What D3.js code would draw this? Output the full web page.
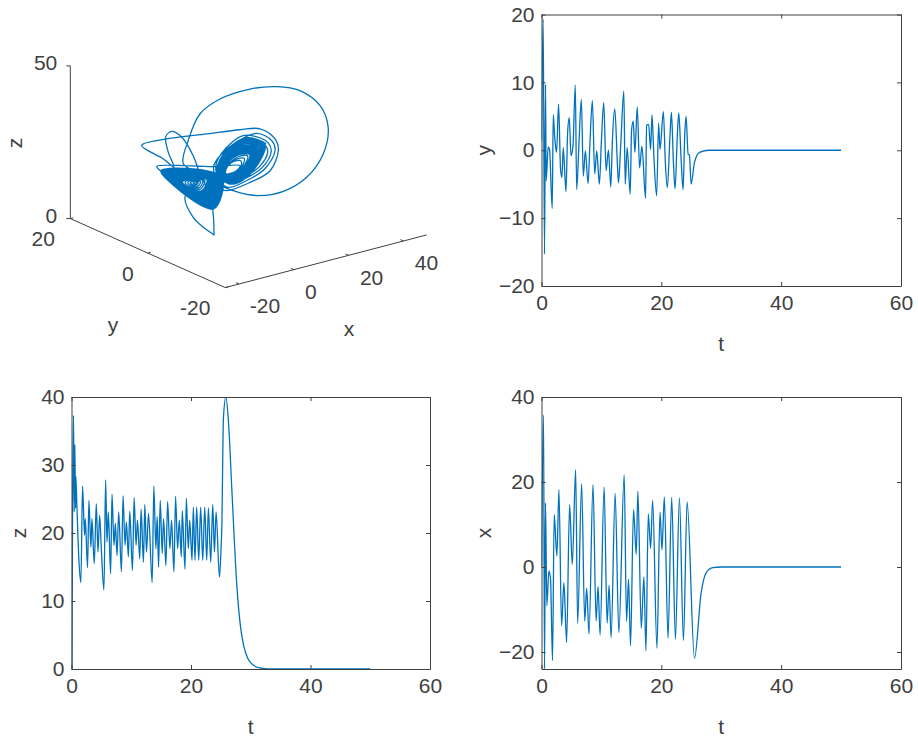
<!DOCTYPE html>
<html>
<head>
<meta charset="utf-8">
<script src="https://cdn.jsdelivr.net/npm/d3@7"></script>
<style>
  html, body { margin: 0; padding: 0; background: #fff; }
  svg { display: block; }
  text { font-family: "Liberation Sans", Arial, sans-serif; fill: #404040; }
</style>
</head>
<body>
<svg id="chart" width="918" height="738"></svg>
<script>
const tY = [0,.28,.5,.67,.78,1.12,1.34,1.79,1.96,2.23,2.51,2.85,3.18,3.41,3.63,4.08,4.36,4.64,4.92,5.25,5.64,5.87,6.26,6.65,6.98,7.32,7.77,8.1,8.49,8.88,9.22,9.66,10,10.39,10.78,11.17,11.56,11.84,12.23,12.68,12.85,13.24,13.74,13.97,14.3,14.8,15.03,15.31,15.59,15.98,16.37,16.76,17.37,17.54,17.88,18.21,18.44,18.77,19.22,19.55,19.78,20.34,20.67,21,21.45,21.68,22.01,22.29,22.68,22.91,23.3,23.63,23.91,24.13,24.47,24.69,24.97,25.53,26.37,28,50];
const valuesY = [1.4,19.3,-15.3,9.7,-4.5,.5,.1,-8.6,5.2,1.6,-.3,6.8,-2.8,-4,.4,-6.1,2.6,4.8,-.8,.6,9.6,-5.8,1.1,7.5,-3.8,-.1,-4.9,1.4,7.3,-3.5,-.1,-5,1.4,7,-3,0,-5.4,1.6,6.1,-2.3,-4.8,1.1,8.7,-5,.4,-6.5,2.9,4.3,-.3,6.4,-2.6,.6,-7.1,3.7,3.8,.1,5.2,-1.2,-6.7,4,.1,5.7,-1.8,-5.5,2.2,5.6,-1.6,-5.7,2.4,5.5,-1.3,-5.8,2.4,5,-.6,-.7,-5,-1.8,-.3,0,0];

const tZ = [0,.06,.17,.34,.45,.56,.67,.73,.9,1.23,1.57,1.85,2.18,2.3,2.69,2.91,3.25,3.42,3.81,4.15,4.43,4.71,4.99,5.43,5.71,5.94,6.16,6.55,6.78,7.11,7.34,7.62,7.9,8.35,8.63,8.96,9.19,9.52,9.75,10.2,10.48,10.81,11.04,11.43,11.65,12.04,12.27,12.55,12.89,13.5,13.78,14.12,14.34,14.57,14.85,15.18,15.41,15.8,16.08,16.47,16.75,17.14,17.42,17.76,18.04,18.38,18.54,18.99,19.22,19.55,19.78,20.17,20.39,20.67,20.95,21.29,21.62,21.96,22.3,22.63,22.91,23.3,23.64,23.92,24.2,24.76,25.04,25.15,25.43,25.83,26.27,26.83,27.67,28.5,29.9,31.5,33,50];
const valuesZ = [0,0,22.1,37.3,23.1,33,23.6,28.3,24.1,16.2,12.7,26.9,19.7,22.1,14.9,24.8,17.9,22.1,15.5,24.3,17.2,22.6,17.7,11.6,27.8,18.7,23.1,14,25.7,18.2,21.4,16.7,23.1,14.3,25.5,18.2,21.6,16.5,23.2,14.5,25.2,18.2,21.9,16.2,23.5,15.7,24.2,17.2,22.9,12.7,26.9,17.7,22.4,15,24.8,17,22.1,15.2,24.6,17.7,21.9,14.3,25.4,17.7,21.9,16.5,23.3,14.7,25.1,17.7,21.9,16,23.8,16,23.8,16,23.8,16,23.8,16,23.7,15.7,24.2,17.2,23.1,13.5,17.9,20.6,36.9,40,36.4,26.5,12.3,4.9,1,.15,.02,0];

const tX = [0,.34,.5,.67,.89,1.23,1.51,1.84,2.12,2.57,2.91,3.35,3.74,4.19,4.69,5.14,5.7,6.03,6.7,7.21,7.54,7.93,8.6,9.11,9.44,9.78,10.45,10.95,11.28,11.62,12.29,12.91,13.8,14.19,14.53,14.86,15.36,15.81,16.09,16.65,17.09,17.43,17.82,18.21,18.55,19.27,19.78,20.11,20.5,21.12,21.73,22.35,23.02,23.69,24.3,25.53,26.65,27.5,28.6,30,50];
const valuesX = [0,35.8,-24,15.1,-9.1,-.9,-2.9,-22,12.3,2.6,18.2,-13.8,-3.7,-17.7,14.7,.6,22.9,-13.3,19.6,-12.7,-5,-15.8,19.4,-12.7,-4.6,-16,18.8,-13.2,-4.3,-16.6,17.3,-15.4,21.7,-12.7,-2.9,-18.5,13.5,3,17.8,-14.4,-2.3,-19.7,12.5,4.4,15.7,-19.1,12.9,4.1,16.5,-16.7,16.4,-17,16.3,-17.3,15.3,-21.5,-6,-1.3,-.15,0,0];

// 3D trajectory, estimated from the projected curve: first the transient and big loop
const orbitX = [0,-.2,-1.2,-5.1,-7.6, -11.8,-15.4,-17.6,-16.7,-14.6, -12.8,-15.1,-8.8,1.6,10.9, 18.2,23.7,24.9,21.9,14.6, 6.1,2.4,-6.5,-12.6,-9.4, -.9,13.5,27.3,34.2,37, 35.9,34.6,30,22.5,14, 7.1,2.8,.8,-.2,3.6, 8.5];
const orbitY = [0,0,0,0,0, 0,0,0,0,0, 4,8,6,3,1, 1,1,1,1,1, 1,1,-1,-1,0, 3,8,10,8,4, -2,-5,-7,-8,-8, -6,-3,-1,0,1, 1];
const orbitZ = [0,5.9,12.7,21.3,27.8, 34.9,37.6,36.4,31.1,25.7, 25.7,28.4,30.2,31.1,31.4, 30,25.4,21.3,15.4,13.3, 12.6,14.5,22.2,26.9,33.2, 38.2,36.9,35.8,36.1,36.4, 35.1,30,23.6,18.2,15.6, 14.7,15.6,17.1,22.3,24.6, 27.3];

// right wing, outer strands then the dense spiral round the hole
const wingX = [
  17,22.5,23.7,20,13.4,6.1,2.4,2.4,7.3,12.1,
  16.4,21.2,22.3,19,13.2,6.8,3.6,3.6,7.9,12.1,
  15.8,20.1,21,18.1,13.1,7.4,4.7,4.7,8.3,12.1,
  20.3,13.4,4.9,2.4,8.5,15.8,
  20,13.3,5,2.5,8.5,15.6,
  19.6,13.1,5.1,2.7,8.5,15.3,
  19.2,12.9,5.1,2.8,8.4,15.1,
  18.8,12.7,5.2,2.9,8.4,14.9,
  18.5,12.6,5.3,3,8.4,14.7,
  18.1,12.4,5.4,3.2,8.4,14.4,
  17.8,12.2,5.4,3.3,8.3,14.1,
  17.4,12,5.5,3.5,8.3,13.9,
  17,11.8,5.6,3.6,8.3,13.7,
  16.7,11.7,5.7,3.8,8.3,13.5,
  16.3,11.5,5.8,3.9,8.2,13.2,
  15.9,11.3,5.9,4,8.2,13,
  15.6,11.1,6,4.2,8.2,12.8,
  15.2,11,6,4.3,8.2,12.6,
  14.9,10.8,6.1,4.5,8.1,12.3,
  14.5,10.6,6.2,4.6,8.1,12.1,
  13.7,10.3,6.3,4.8,8.1,11.6,
  12.4,9.1,6.1,5.3,8.7,11.3,
  11.2,7.9,6,5.8,9.3,11];
const wingZ = [
  28.8,25.1,21.6,16.5,14.2,13.7,18.9,22.8,27.6,29.2,
  27.9,24.7,21.6,17.1,15.1,14.6,19.2,22.6,26.9,28.3,
  27,24.2,21.6,17.7,15.8,15.4,19.5,22.5,26.1,27.4,
  24.6,28.2,24.9,18.4,14.2,16.9,
  24.5,27.9,24.7,18.4,14.4,17,
  24.3,27.6,24.5,18.4,14.6,17.1,
  24.2,27.3,24.3,18.4,14.8,17.2,
  24.1,27,24,18.4,15,17.4,
  24,26.7,23.8,18.4,15.2,17.5,
  23.8,26.4,23.6,18.4,15.3,17.6,
  23.7,26,23.3,18.3,15.5,17.7,
  23.5,25.7,23.1,18.3,15.7,17.9,
  23.4,25.4,22.9,18.3,15.9,18,
  23.2,25.1,22.7,18.3,16.1,18.1,
  23.1,24.8,22.5,18.3,16.3,18.2,
  23,24.5,22.3,18.3,16.5,18.4,
  22.8,24.2,22,18.3,16.6,18.5,
  22.7,23.9,21.8,18.3,16.8,18.6,
  22.5,23.6,21.6,18.3,17,18.7,
  22.4,23.3,21.4,18.3,17.2,18.9,
  22.2,22.7,20.9,18.3,17.6,19.1,
  21.7,22,20.4,18.2,17.9,19.3,
  21.2,21.4,20,18.2,18.2,19.6];
const wingY = [
  1,1,1,1,1,1,1,1,1,1,
  1,1,1,1,1,1,1,1,1,1,
  1,1,1,1,1,1,1,1,1,1,
  1,1,1,1,1,1,
  1,1,1,1,1,1,
  1,1,1,1,1,1,
  1,1,1,1,1,1,
  1,1,1,1,1,1,
  1,1,1,1,1,1,
  1,1,1,1,1,1,
  1,1,1,1,1,1,
  1,1,1,1,1,1,
  1,1,1,1,1,1,
  1,1,1,1,1,1,
  1,1,1,1,1,1,
  1,1,1,1,1,1,
  1,1,1,1,1,1,
  1,1,1,1,1,1,
  1,1,1,1,1,1,
  1,1,1,1,1,1,
  1,1,1,1,1,1,
  1,1,1,1,1,1,
  1,1,1,1,1,1];

// left wing seen edge on: a wedge swept corner to corner, then the last fall to the origin
const fanX = [
  -1.7,-22.3,
  -21.1,-1.7,1.4, -20.8,-1.8,1.2, -20.5,-2,1, -20.2,-2.1,.8, -20,-2.3,.6,
  -19.7,-2.4,.4, -19.4,-2.6,.3, -19,-2.7,0, -18.7,-2.9,-.2, -18.4,-3,-.3,
  -18.2,-3.2,-.5, -17.9,-3.3,-.7, -17.6,-3.5,-.9, -17.3,-3.7,-1.1, -17,-3.9,-1.3,
  -16.7,-4,-1.5, -16.5,-4.2,-1.7, -16.2,-4.3,-1.8, -15.9,-4.5,-2, -15.6,-4.6,-2.2,
  -15.3,-4.8,-2.4, -15,-4.9,-2.6, -14.7,-5.1,-2.9, -14.4,-5.2,-3, -14.1,-5.4,-3.2,
  -13.8,-5.5,-3.4, -13.6,-5.7,-3.6, -13.3,-5.8,-3.8, -13,-6,-4,
  -12,-6.4,-4.8, -11,-6.8,-5.6, -10,-7.2,-6.4, -9,-7.6,-7.2,
  -12,-9,-3.9,-.8,0];
const fanZ = [
  23.4,28.3,
  26.7,9.5,19.2, 26.5,9.7,19.2, 26.3,10,19.3, 26.1,10.2,19.3, 25.9,10.5,19.3,
  25.7,10.7,19.3, 25.5,11,19.4, 25.2,11.2,19.4, 25,11.5,19.4, 24.8,11.7,19.4,
  24.6,12,19.5, 24.4,12.2,19.5, 24.2,12.5,19.5, 24,12.7,19.5, 23.9,13,19.6,
  23.7,13.2,19.6, 23.5,13.5,19.6, 23.2,13.7,19.6, 23,14,19.7, 22.8,14.2,19.7,
  22.6,14.5,19.7, 22.4,14.7,19.7, 22.2,15,19.8, 22,15.2,19.8, 21.8,15.5,19.8,
  21.6,15.7,19.8, 21.4,16,19.9, 21.2,16.2,19.9, 21,16.5,20,
  20.7,17.1,19.9, 20.4,17.7,19.8, 20.1,18.3,19.7, 19.8,18.9,19.6,
  15.8,8.5,3.5,.8,0];
const fanY = [
  -1,-1,
  -1,-1,-1, -1,-1,-1, -1,-1,-1, -1,-1,-1, -1,-1,-1,
  -1,-1,-1, -1,-1,-1, -1,-1,-1, -1,-1,-1, -1,-1,-1,
  -1,-1,-1, -1,-1,-1, -1,-1,-1, -1,-1,-1, -1,-1,-1,
  -1,-1,-1, -1,-1,-1, -1,-1,-1, -1,-1,-1, -1,-1,-1,
  -1,-1,-1, -1,-1,-1, -1,-1,-1, -1,-1,-1, -1,-1,-1,
  -1,-1,-1, -1,-1,-1, -1,-1,-1, -1,-1,-1,
  -1,-1,-1, -1,-1,-1, -1,-1,-1, -1,-1,-1,
  -1,-1,0,0,0];

const tTicks = [0, 20, 40, 60];
const yTicks = [-20, -10, 0, 10, 20];
const zTicks = [0, 10, 20, 30, 40];
const xTicks = [-20, 0, 20, 40];
const tick3dX = [-20, 0, 20, 40];
const tick3dY = [-20, 0, 20];
const tick3dZ = [0, 50];

const lineColor = '#0072BD';
const axisColor = '#404040';
const fontSize = 21;

const svg = d3.select('#chart');

function drawPanel(id, box, tVals, vVals, yDomain, vTicks, label, labelX) {
  const xScale = d3.scaleLinear().domain([0, 60]).range([box.left, box.right]);
  const yScale = d3.scaleLinear().domain(yDomain).range([box.bottom, box.top]);

  svg.append('clipPath').attr('id', id)
    .append('rect')
    .attr('x', box.left).attr('y', box.top)
    .attr('width', box.right - box.left).attr('height', box.bottom - box.top);

  const line = d3.line()
    .x((d, i) => xScale(tVals[i]))
    .y(d => yScale(d))
    .curve(d3.curveMonotoneX);

  svg.append('path')
    .datum(vVals)
    .attr('clip-path', `url(#${id})`)
    .attr('fill', 'none')
    .attr('stroke', lineColor)
    .attr('stroke-width', 1.3)
    .attr('d', line);

  const bottom = d3.axisBottom(xScale).tickValues(tTicks).tickSize(-4).tickPadding(9);
  const left = d3.axisLeft(yScale).tickValues(vTicks).tickSize(-4).tickPadding(7);
  const top = d3.axisTop(xScale).tickValues(tTicks).tickSize(-4).tickFormat('');
  const right = d3.axisRight(yScale).tickValues(vTicks).tickSize(-4).tickFormat('');

  [[bottom, 0, box.bottom], [left, box.left, 0], [top, 0, box.top], [right, box.right, 0]].forEach(a => {
    const g = svg.append('g')
      .attr('transform', `translate(${a[1]}, ${a[2]})`)
      .call(a[0].tickSizeOuter(0));
    g.selectAll('path,line').attr('stroke', axisColor);
    g.selectAll('text').style('font-size', fontSize + 'px').attr('fill', axisColor);
  });

  svg.append('text')
    .attr('x', (box.left + box.right) / 2)
    .attr('y', box.bottom + 65)
    .attr('text-anchor', 'middle')
    .style('font-size', fontSize + 'px')
    .text('t');

  svg.append('text')
    .attr('transform', `translate(${labelX}, ${(box.top + box.bottom) / 2}) rotate(-90)`)
    .attr('text-anchor', 'middle')
    .style('font-size', fontSize + 'px')
    .text(label);
}

drawPanel('clipY', { left: 541.5, right: 901, top: 14.5, bottom: 286 }, tY, valuesY, [-20, 20], yTicks, 'y', 491);
drawPanel('clipZ', { left: 71.5, right: 430, top: 397, bottom: 669 }, tZ, valuesZ, [0, 40], zTicks, 'z', 26);
drawPanel('clipX', { left: 541.5, right: 901, top: 397, bottom: 669 }, tX, valuesX, [-24, 40], xTicks, 'x', 491);

// 3D view: each data axis adds its own screen offset
const xToPx = d3.scaleLinear().domain([-20, 40]).range([239, 403.4]);
const xToPy = d3.scaleLinear().domain([-20, 40]).range([284, 241]);
const yToPx = d3.scaleLinear().domain([-20, 20]).range([0, -155]);
const yToPy = d3.scaleLinear().domain([-20, 20]).range([0, -69]);
const zToPy = d3.scaleLinear().domain([0, 50]).range([0, -152.7]);

const projX = (x, y) => xToPx(x) + yToPx(y);
const projY = (x, y, z) => xToPy(x) + yToPy(y) + zToPy(z);

const traj3X = orbitX.concat(wingX, fanX);
const traj3Y = orbitY.concat(wingY, fanY);
const traj3Z = orbitZ.concat(wingZ, fanZ);

const line3d = d3.line()
  .x((d, i) => projX(d, traj3Y[i]))
  .y((d, i) => projY(d, traj3Y[i], traj3Z[i]))
  .curve(d3.curveCatmullRom.alpha(0.5));

svg.append('path')
  .datum(traj3X)
  .attr('transform', 'translate(-2.3, 0)')
  .attr('fill', 'none')
  .attr('stroke', lineColor)
  .attr('stroke-width', 1.3)
  .attr('d', line3d);

// the three visible axes
const xMin3 = -25, xMax3 = 48.5, yMin3 = -20, yMax3 = 20;
const axisPts = [
  [xMin3, yMax3, 50], [xMin3, yMax3, 0], [xMin3, yMin3, 0], [xMax3, yMin3, 0]
];
svg.append('path')
  .attr('fill', 'none')
  .attr('stroke', axisColor)
  .attr('d', d3.line()(axisPts.map(p => [projX(p[0], p[1]), projY(p[0], p[1], p[2])])));

function text3d(x, y, str, anchor) {
  svg.append('text')
    .attr('x', x).attr('y', y)
    .attr('text-anchor', anchor || 'middle')
    .attr('dy', '0.35em')
    .style('font-size', fontSize + 'px')
    .text(str);
}

// label offsets follow the tick order, MATLAB spaces them unevenly
const xLabelDx = [26, 17, 23, 23];
const yLabelDx = [-30, -20, -27];

tick3dX.forEach((d, i) => {
  const px = projX(d, yMin3), py = projY(d, yMin3, 0);
  svg.append('line').attr('x1', px).attr('y1', py).attr('x2', px - 3).attr('y2', py - 1.4).attr('stroke', axisColor);
  text3d(px + xLabelDx[i], py + 22, String(d));
});
tick3dY.forEach((d, i) => {
  const px = projX(xMin3, d), py = projY(xMin3, d, 0);
  svg.append('line').attr('x1', px).attr('y1', py).attr('x2', px + 3).attr('y2', py - 0.8).attr('stroke', axisColor);
  text3d(px + yLabelDx[i], py + 20.5, String(d));
});
tick3dZ.forEach(d => {
  const px = projX(xMin3, yMax3), py = projY(xMin3, yMax3, d);
  svg.append('line').attr('x1', px).attr('y1', py).attr('x2', px - 4).attr('y2', py).attr('stroke', axisColor);
  text3d(px - 13, py - 3, String(d), 'end');
});

text3d(113, 325, 'y');
text3d(349, 329, 'x');
svg.append('text')
  .attr('transform', 'translate(22, 143) rotate(-90)')
  .attr('text-anchor', 'middle')
  .style('font-size', fontSize + 'px')
  .text('z');
</script>
</body>
</html>
